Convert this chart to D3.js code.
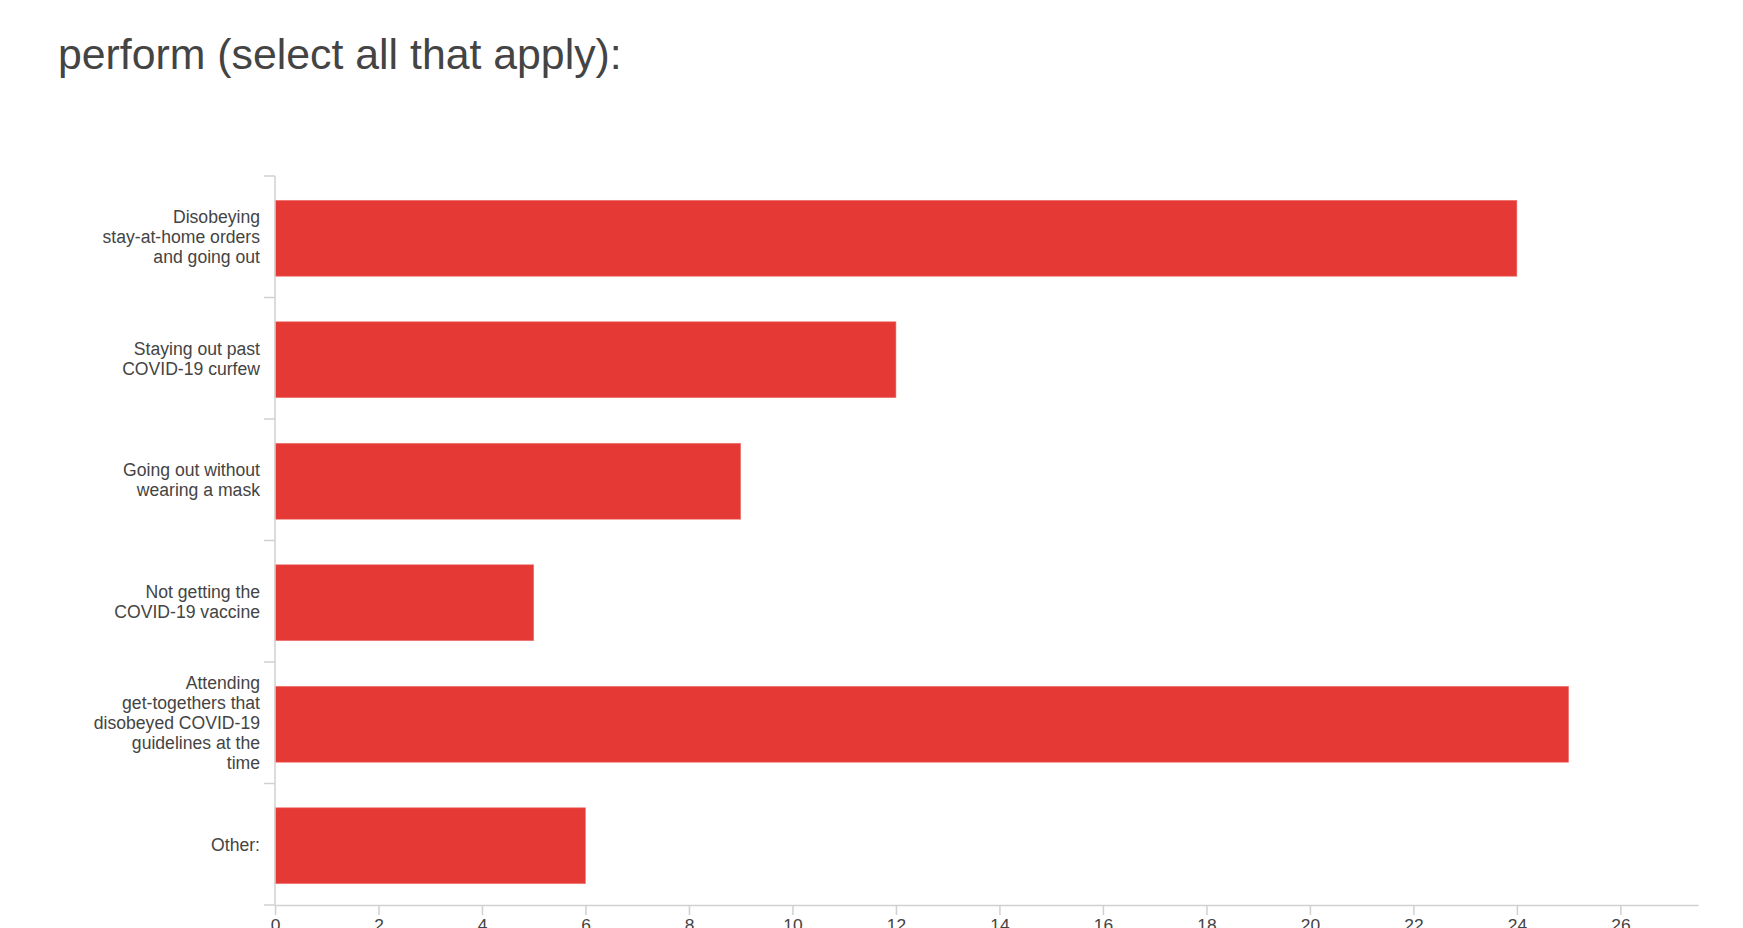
<!DOCTYPE html>
<html>
<head>
<meta charset="utf-8">
<script src="https://cdn.jsdelivr.net/npm/d3@7"></script>
<style>
  body { margin: 0; background: #fff; }
  text { font-family: "Liberation Sans", Arial, sans-serif; }
</style>
</head>
<body>
<script>
// data
var categories = [
    ["Disobeying", "stay-at-home orders", "and going out"],
    ["Staying out past", "COVID-19 curfew"],
    ["Going out without", "wearing a mask"],
    ["Not getting the", "COVID-19 vaccine"],
    ["Attending", "get-togethers that", "disobeyed COVID-19", "guidelines at the", "time"],
    ["Other:"]
];
var counts = [24, 12, 9, 5, 25, 6];
var xTicks = [0, 2, 4, 6, 8, 10, 12, 14, 16, 18, 20, 22, 24, 26];

// plot area (note: "top" is reserved on window, so use other names)
var width = 1743, height = 928;
var plotLeft = 275, plotRight = 1698, plotTop = 176, plotBottom = 905;

var svg = d3.select("body").append("svg")
        .attr("width", width)
        .attr("height", height);

// title
svg.append("text")
        .attr("x", 58)
        .attr("y", 69)
        .style("font-size", "42.8px")
        .style("fill", "#444")
        .text("perform (select all that apply):");

var idx = d3.range(categories.length);

var y = d3.scaleBand()
        .domain(idx)
        .range([plotTop, plotBottom]);

var x = d3.scaleLinear()
        .domain([0, 27.5])
        .range([plotLeft, plotRight]);

// bars
var barH = y.bandwidth() * 0.625;
svg.selectAll(".bar")
        .data(idx)
        .enter().append("rect")
        .attr("class", "bar")
        .attr("x", x(0))
        .attr("y", function (d) {
            return y(d) + (y.bandwidth() - barH) / 2 + 1.5;
        })
        .attr("width", function (d) {
            return x(counts[d]) - x(0);
        })
        .attr("height", barH)
        .style("fill", "#e53935")
        .style("stroke", "#f07a77")
        .style("stroke-width", 0.6);

// y axis line and boundary ticks
svg.append("line")
        .attr("x1", plotLeft).attr("x2", plotLeft)
        .attr("y1", plotTop).attr("y2", plotBottom)
        .style("stroke", "#d0d0d0")
        .style("stroke-width", 1.5);

svg.selectAll(".ytick")
        .data(idx.concat([idx.length]))
        .enter().append("line")
        .attr("class", "ytick")
        .attr("x1", plotLeft - 11).attr("x2", plotLeft)
        .attr("y1", function (d) { return d < idx.length ? y(d) : plotBottom; })
        .attr("y2", function (d) { return d < idx.length ? y(d) : plotBottom; })
        .style("stroke", "#d0d0d0")
        .style("stroke-width", 1.5);

// category labels, several lines each
var lineH = 20;
idx.forEach(function (i) {
    var lines = categories[i];
    var cy = y(i) + y.bandwidth() / 2;
    var first = cy - (lines.length - 1) * lineH / 2 + 6.3;
    var t = svg.append("text")
            .attr("text-anchor", "end")
            .style("font-size", "17.6px")
            .style("fill", "#444");
    lines.forEach(function (s, k) {
        t.append("tspan")
                .attr("x", 260)
                .attr("y", first + k * lineH)
                .text(s);
    });
});

// x axis
var xAxis = svg.append("g")
        .attr("transform", "translate(0," + plotBottom + ")")
        .call(d3.axisBottom(x).tickValues(xTicks).tickSize(10).tickSizeOuter(0).tickPadding(4));

xAxis.select(".domain").style("stroke", "#d0d0d0").style("stroke-width", 1.5);
xAxis.selectAll(".tick line").style("stroke", "#d0d0d0").style("stroke-width", 1.5);
xAxis.selectAll(".tick text")
        .attr("dy", null)
        .attr("y", 26)
        .style("font-size", "17.4px")
        .style("font-family", "'Liberation Sans', Arial, sans-serif")
        .style("fill", "#444");
</script>
</body>
</html>
